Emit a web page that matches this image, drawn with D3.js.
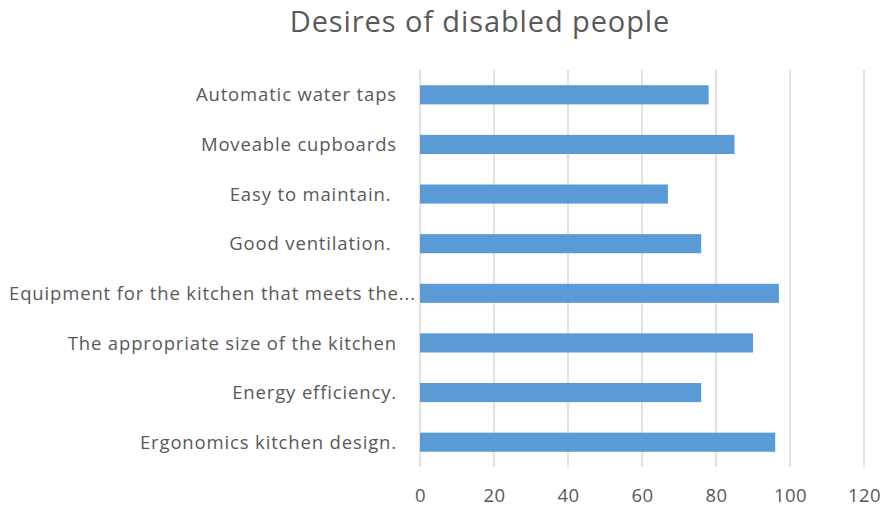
<!DOCTYPE html>
<html>
<head>
<meta charset="utf-8">
<script src="https://cdn.jsdelivr.net/npm/d3@7"></script>
<style>
  html, body { margin: 0; padding: 0; background: #fff; }
  svg { display: block; }
  text { white-space: pre; }
</style>
</head>
<body>
<svg id="chart" width="883" height="509"></svg>
<script>
const title = "Desires of disabled people";
const categories = [
  "Automatic water taps",
  "Moveable cupboards",
  "Easy to maintain. ",
  "Good ventilation. ",
  "Equipment for the kitchen that meets the...",
  "The appropriate size of the kitchen",
  "Energy efficiency.",
  "Ergonomics kitchen design."
];
const values = [78, 85, 67, 76, 97, 90, 76, 96];
const xTicks = [0, 20, 40, 60, 80, 100, 120];

const svg = d3.select("#chart");
const margin = { left: 420, right: 19, top: 70, bottom: 42 };
const W = 883, H = 509;

const x = d3.scaleLinear().domain([0, 120]).range([margin.left, W - margin.right]);
const y = d3.scaleBand().domain(categories).range([margin.top, H - margin.bottom]).paddingInner(0.615).paddingOuter(0.3075);

const textColor = "#595959";
const font = "'Open Sans', sans-serif";

// gridlines
svg.append("g").selectAll("line").data(xTicks).join("line")
  .attr("x1", d => x(d)).attr("x2", d => x(d))
  .attr("y1", margin.top).attr("y2", H - margin.bottom)
  .attr("stroke", "#d9d9d9").attr("stroke-width", 1.5);

// bars
svg.append("g").selectAll("rect").data(categories).join("rect")
  .attr("x", x(0))
  .attr("y", d => y(d))
  .attr("width", (d, i) => x(values[i]) - x(0))
  .attr("height", y.bandwidth())
  .attr("fill", "#5b9bd5");

// x axis tick labels
const xAxis = d3.axisBottom(x).tickValues(xTicks).tickSize(0).tickPadding(0);
const gx = svg.append("g").attr("transform", `translate(0,${H - margin.bottom})`).call(xAxis);
gx.select(".domain").remove();
gx.selectAll("text")
  .attr("dy", null).attr("y", 35)
  .attr("fill", textColor)
  .style("font-family", font).style("font-size", "18.5px").style("letter-spacing", "0.5px");

// y axis labels
const yAxis = d3.axisLeft(y).tickSize(0).tickPadding(0);
const gy = svg.append("g").attr("transform", `translate(${margin.left - 23},0)`).call(yAxis);
gy.select(".domain").remove();
gy.selectAll("text")
  .attr("fill", textColor)
  .attr("dy", "0.36em")
  .attr("x", d => d.endsWith("...") ? 19 : 0)
  .style("font-family", font).style("font-size", "18.5px").style("letter-spacing", "0.85px");

// title
svg.append("text")
  .attr("x", 480).attr("y", 32)
  .attr("text-anchor", "middle")
  .attr("fill", textColor)
  .style("font-family", font).style("font-size", "29px").style("letter-spacing", "0.9px")
  .text(title);
</script>
</body>
</html>
